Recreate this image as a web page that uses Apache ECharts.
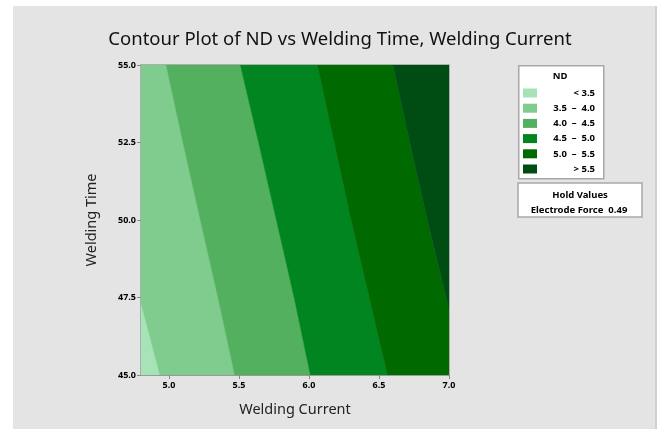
<!DOCTYPE html>
<html>
<head>
<meta charset="utf-8">
<script src="https://cdn.jsdelivr.net/npm/echarts@6/dist/echarts.min.js"></script>
<style>
  html, body { margin: 0; padding: 0; background: #ffffff; }
  .panel {
    position: absolute; left: 13px; top: 6px; width: 642px; height: 423px;
    background: #e4e4e4; border-right: 2px solid #d0d0d0;
  }
  #chart { position: absolute; left: 0; top: 0; width: 659px; height: 429px; }
</style>
</head>
<body>
<div class="panel"></div>
<div id="chart"></div>
<script>
// Welding Time levels where contour positions were read
const timeLevels = [45, 47.5, 50, 52.5, 55]
// Welding Current at which each contour line (ND level) crosses the time levels
const contour35 = [4.935, 4.79, 4.67, 4.55, 4.43]
const contour40 = [5.47, 5.35, 5.224, 5.10, 4.98]
const contour45 = [6.01, 5.894, 5.767, 5.64, 5.51]
const contour50 = [6.56, 6.43, 6.30, 6.18, 6.06]
const contour55 = [7.11, 6.98, 6.845, 6.72, 6.60]
const leftEdge = [4.5, 4.5, 4.5, 4.5, 4.5]
const rightEdge = [7.5, 7.5, 7.5, 7.5, 7.5]

const bandLabels = ['< 3.5', '3.5  –  4.0', '4.0  –  4.5', '4.5  –  5.0', '5.0  –  5.5', '> 5.5']
const bandColors = ['#a6e4b8', '#80cc8f', '#53b05e', '#008521', '#006a00', '#004d14']
const xTicks = [5.0, 5.5, 6.0, 6.5, 7.0]

const boundaries = [leftEdge, contour35, contour40, contour45, contour50, contour55, rightEdge]

const smallFont = 'bold 9.5px "Noto Sans"'

let chart = echarts.init(document.getElementById('chart'))

// 图例
let legendItems = [
  { type: 'rect', left: 518, top: 65, shape: { width: 85, height: 113 },
    style: { fill: '#ffffff', stroke: '#a8a8a8', lineWidth: 1.5 } },
  { type: 'text', x: 560, y: 76,
    style: { text: 'ND', fill: '#000', font: smallFont, align: 'center', verticalAlign: 'middle' } }
]
bandLabels.forEach((lab, i) => {
  let cy = 93 + i * 15.2
  legendItems.push({ type: 'rect', shape: { x: 523, y: cy - 4.5, width: 14, height: 9 },
    style: { fill: bandColors[i] } })
  legendItems.push({ type: 'text', x: 595, y: cy,
    style: { text: lab, fill: '#000', font: smallFont, align: 'right', verticalAlign: 'middle' } })
})
legendItems.push(
  { type: 'rect', shape: { x: 518, y: 183, width: 124, height: 34 },
    style: { fill: '#ffffff', stroke: '#a8a8a8', lineWidth: 1.5 } },
  { type: 'text', x: 580, y: 195,
    style: { text: 'Hold Values', fill: '#000', font: smallFont, align: 'center', verticalAlign: 'middle' } },
  { type: 'text', x: 579, y: 210,
    style: { text: 'Electrode Force  0.49', fill: '#000', font: smallFont, align: 'center', verticalAlign: 'middle' } }
)

chart.setOption({
  backgroundColor: 'transparent',
  animation: false,
  title: {
    text: 'Contour Plot of ND vs Welding Time, Welding Current',
    left: 335,
    textAlign: 'center',
    top: 25,
    textStyle: { fontFamily: 'Noto Sans', fontSize: 18.5, fontWeight: 'normal', color: '#111' }
  },
  grid: {
    left: 141, right: 210, top: 65, bottom: 54,
    show: true, borderColor: '#9a9a9a', borderWidth: 1.5, backgroundColor: 'transparent'
  },
  xAxis: {
    type: 'value', min: 4.8, max: 7.0,
    name: 'Welding Current', nameLocation: 'middle', nameGap: 27,
    nameTextStyle: { fontFamily: 'Noto Sans', fontSize: 14.5, color: '#222' },
    axisLine: { lineStyle: { color: '#9a9a9a' } },
    axisTick: { customValues: xTicks, length: 4, lineStyle: { color: '#8a8a8a' } },
    axisLabel: { customValues: xTicks, formatter: v => v.toFixed(1), fontFamily: 'Noto Sans', fontSize: 9, fontWeight: 'bold', color: '#000', margin: 6 },
    splitLine: { show: false }
  },
  yAxis: {
    type: 'value', min: 45, max: 55, interval: 2.5,
    name: 'Welding Time', nameLocation: 'middle', nameGap: 42,
    nameTextStyle: { fontFamily: 'Noto Sans', fontSize: 14.5, color: '#222' },
    axisLine: { show: true, lineStyle: { color: '#9a9a9a' } },
    axisTick: { show: true, length: 4, lineStyle: { color: '#8a8a8a' } },
    axisLabel: { formatter: v => v.toFixed(1), fontFamily: 'Noto Sans', fontSize: 9, fontWeight: 'bold', color: '#000', margin: 5 },
    splitLine: { show: false }
  },
  graphic: legendItems,
  series: [{
    type: 'custom',
    clip: true,
    data: bandColors.map((c, i) => [i]),
    renderItem: (params, api) => {
      let i = api.value(0)
      let lower = boundaries[i]
      let upper = boundaries[i + 1]
      let pts = []
      timeLevels.forEach((t, k) => pts.push(api.coord([lower[k], t])))
      for (let k = timeLevels.length - 1; k >= 0; k--) pts.push(api.coord([upper[k], timeLevels[k]]))
      return {
        type: 'polygon',
        shape: { points: pts },
        style: { fill: bandColors[i], stroke: bandColors[i], lineWidth: 0.5 }
      }
    }
  }]
})
</script>
</body>
</html>
